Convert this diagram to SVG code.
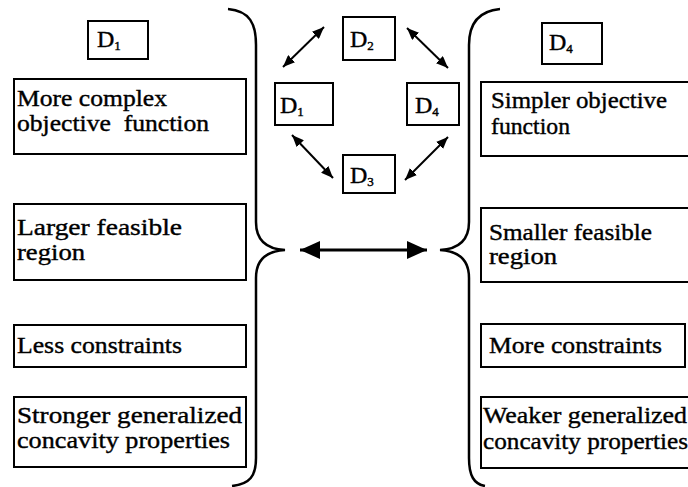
<svg xmlns="http://www.w3.org/2000/svg" width="688" height="487" viewBox="0 0 688 487" font-family="'Liberation Serif', 'Times New Roman', Times, serif">
<style>
.box{fill:#fff;stroke:#000;stroke-width:2}
text{font-size:24px;fill:#000;stroke:#000;stroke-width:0.4}
.sub{font-size:13px}
.brace{fill:none;stroke:#000;stroke-width:2.5}
.arr{stroke:#000;stroke-width:2;fill:none}
.big{stroke:#000;stroke-width:3;fill:none}
</style>
<defs>
<marker id="ah" viewBox="0 0 12 10" refX="12" refY="5" markerWidth="12" markerHeight="10" markerUnits="userSpaceOnUse" orient="auto-start-reverse">
<path d="M0,0 L12,5 L0,10 Z" fill="#000"/>
</marker>
<marker id="bh" viewBox="0 0 20 18" refX="20" refY="9" markerWidth="20" markerHeight="18" markerUnits="userSpaceOnUse" orient="auto-start-reverse">
<path d="M0,0 L20,9 L0,18 Z" fill="#000"/>
</marker>
</defs>

<g id="connectors">
<path class="brace" d="M228,9 C250,11 256,24 256,45 L256,222 C256,240 266,249 285,250 C266,251 256,260 256,278 L256,458 C256,476 250,484 232,486"/>
<path class="brace" d="M500,9 C478,11 469,24 469,45 L469,222 C469,240 459,249 440,250 C459,251 469,260 469,278 L469,458 C469,476 474,484 485,486"/>
<line class="big" x1="300" y1="250" x2="427" y2="250" marker-start="url(#bh)" marker-end="url(#bh)"/>
<line class="arr" x1="283" y1="67" x2="324" y2="27" marker-start="url(#ah)" marker-end="url(#ah)"/>
<line class="arr" x1="407" y1="28" x2="448" y2="68" marker-start="url(#ah)" marker-end="url(#ah)"/>
<line class="arr" x1="292" y1="135" x2="333" y2="178" marker-start="url(#ah)" marker-end="url(#ah)"/>
<line class="arr" x1="448" y1="137" x2="405" y2="180" marker-start="url(#ah)" marker-end="url(#ah)"/>
</g>

<g id="label-D1-left">
<rect class="box" x="88" y="21" width="60" height="38"/>
<text x="97" y="47">D<tspan class="sub" dy="3">1</tspan></text>
</g>
<g id="label-D4-right">
<rect class="box" x="542" y="23" width="60" height="41"/>
<text x="549" y="50">D<tspan class="sub" dy="3">4</tspan></text>
</g>

<g id="center-D2">
<rect class="box" x="343" y="17" width="52" height="43"/>
<text x="350" y="47">D<tspan class="sub" dy="3">2</tspan></text>
</g>
<g id="center-D1">
<rect class="box" x="275" y="83" width="58" height="42"/>
<text x="280" y="113">D<tspan class="sub" dy="3">1</tspan></text>
</g>
<g id="center-D4">
<rect class="box" x="407" y="83" width="52" height="42"/>
<text x="415" y="113">D<tspan class="sub" dy="3">4</tspan></text>
</g>
<g id="center-D3">
<rect class="box" x="343" y="155" width="52" height="38"/>
<text x="350" y="183">D<tspan class="sub" dy="3">3</tspan></text>
</g>

<g id="left-objective">
<rect class="box" x="14" y="79" width="232" height="75"/>
<text x="17" y="106" textLength="150" lengthAdjust="spacingAndGlyphs">More complex</text>
<text x="17" y="131" textLength="192" lengthAdjust="spacingAndGlyphs" xml:space="preserve">objective  function</text>
</g>
<g id="left-feasible">
<rect class="box" x="14" y="204" width="232" height="76"/>
<text x="17" y="235" textLength="165" lengthAdjust="spacingAndGlyphs">Larger feasible</text>
<text x="17" y="260" textLength="68" lengthAdjust="spacingAndGlyphs">region</text>
</g>
<g id="left-constraints">
<rect class="box" x="14" y="325" width="232" height="42"/>
<text x="17" y="353" textLength="165" lengthAdjust="spacingAndGlyphs">Less constraints</text>
</g>
<g id="left-concavity">
<rect class="box" x="14" y="397" width="232" height="70"/>
<text x="17" y="423" textLength="225" lengthAdjust="spacingAndGlyphs">Stronger generalized</text>
<text x="17" y="448" textLength="213" lengthAdjust="spacingAndGlyphs">concavity properties</text>
</g>

<g id="right-objective">
<rect class="box" x="481" y="82" width="220" height="74"/>
<text x="491" y="108" textLength="176" lengthAdjust="spacingAndGlyphs">Simpler objective</text>
<text x="491" y="134" textLength="79" lengthAdjust="spacingAndGlyphs">function</text>
</g>
<g id="right-feasible">
<rect class="box" x="481" y="208" width="220" height="74"/>
<text x="489" y="240" textLength="163" lengthAdjust="spacingAndGlyphs">Smaller feasible</text>
<text x="489" y="264" textLength="68" lengthAdjust="spacingAndGlyphs">region</text>
</g>
<g id="right-constraints">
<rect class="box" x="481" y="324" width="204" height="43"/>
<text x="489" y="353" textLength="173" lengthAdjust="spacingAndGlyphs">More constraints</text>
</g>
<g id="right-concavity">
<rect class="box" x="481" y="397" width="220" height="71"/>
<text x="483" y="423" textLength="204" lengthAdjust="spacingAndGlyphs">Weaker generalized</text>
<text x="483" y="449" textLength="205" lengthAdjust="spacingAndGlyphs">concavity properties</text>
</g>
</svg>
